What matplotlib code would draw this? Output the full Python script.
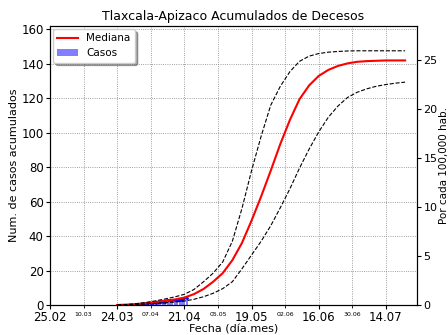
import matplotlib
matplotlib.use("Agg")
import matplotlib.pyplot as plt
import numpy as np

# curvas del modelo, cada 4 dias a partir del 24.03.2020
dias = np.arange(0, 121, 4)
mediana = [0, 0.2, 0.5, 1.0, 1.7, 2.5, 3.2, 4.3, 6.3, 9.3, 13.5, 18.5, 26, 36, 49, 63,
           78, 93.5, 107.5, 119.5, 127.5, 133, 136.5, 138.8, 140.3, 141.2, 141.6, 141.8, 142, 142, 142]
superior = [0, 0.3, 0.8, 1.5, 2.4, 3.5, 4.7, 6.2, 9, 13.5, 18.5, 25, 37, 56, 78, 98,
            116, 127, 135.5, 141.5, 144.5, 146, 146.8, 147.2, 147.5, 147.6, 147.6, 147.6, 147.6, 147.6, 147.6]
inferior = [0, 0.1, 0.3, 0.6, 0.9, 1.3, 1.7, 2.3, 3.3, 4.8, 6.8, 9.5, 13.5, 21, 29, 37,
            46, 56.5, 67.5, 79.5, 90.5, 100.5, 109, 115.5, 120.5, 123.5, 125.5, 127, 128, 128.8, 129.4]

# decesos acumulados observados (diarios desde 24.03)
casos = [0, 0, 0, 0, 0, 0, 0, 0, 0, 0, 0, 0, 1, 1, 1, 1, 1, 2, 2, 2,
         2, 3, 3, 3, 3, 3, 3, 3, 4, 4]

poblacion = 570000

inicio = np.datetime64('2020-03-24')
fechas = inicio + dias.astype('timedelta64[D]')
fechas_casos = inicio + np.arange(len(casos)).astype('timedelta64[D]')

mayores = np.datetime64('2020-02-25') + np.arange(0, 6 * 28, 28).astype('timedelta64[D]')
menores = np.datetime64('2020-03-10') + np.arange(0, 5 * 28, 28).astype('timedelta64[D]')
et_mayores = [str(d)[8:10] + '.' + str(d)[5:7] for d in mayores]
et_menores = [str(d)[8:10] + '.' + str(d)[5:7] for d in menores]

fig = plt.figure(figsize=(4.48, 3.35), dpi=100)
ax = fig.add_axes([0.1116, 0.0896, 0.8194, 0.8328])

ax.bar(fechas_casos, casos, width=0.8, color='b', alpha=0.5, label='Casos')
ax.plot(fechas_casos, casos, 'b.-', ms=2, lw=1)
ax.plot(fechas, mediana, 'r-', lw=1.5, label='Mediana')
ax.plot(fechas, superior, 'k--', lw=0.8)
ax.plot(fechas, inferior, 'k--', lw=0.8)

ax.set_xlim(np.datetime64('2020-02-25'), np.datetime64('2020-07-27'))
ax.set_ylim(0, 162)
ax.set_yticks(np.arange(0, 161, 20))
ax.set_xticks(mayores)
ax.set_xticklabels(et_mayores, fontsize=8.5)
ax.set_xticks(menores, minor=True)
ax.set_xticklabels(et_menores, minor=True, fontsize=4.5)
ax.tick_params(axis='y', labelsize=8.5)
ax.tick_params(axis='both', pad=1.5, length=3)
ax.grid(which='both', linestyle=':', color='gray', lw=0.6)

ax.set_xlabel('Fecha (día.mes)', fontsize=8, labelpad=0)
ax.set_ylabel('Num. de casos acumulados', fontsize=8, labelpad=2)
ax.set_title('Tlaxcala-Apizaco Acumulados de Decesos', fontsize=9, pad=4)

ax.legend(loc='upper left', fontsize=7.5, shadow=True, borderaxespad=0.3)

ax2 = ax.twinx()
ax2.set_ylim(0, 162 * 1e5 / poblacion)
ax2.set_yticks(np.arange(0, 26, 5))
ax2.tick_params(axis='y', labelsize=8, pad=1.5, length=3)
ax2.set_ylabel('Por cada 100,000 hab.', fontsize=7.5, labelpad=1)

fig.savefig('out.png', dpi=100)
